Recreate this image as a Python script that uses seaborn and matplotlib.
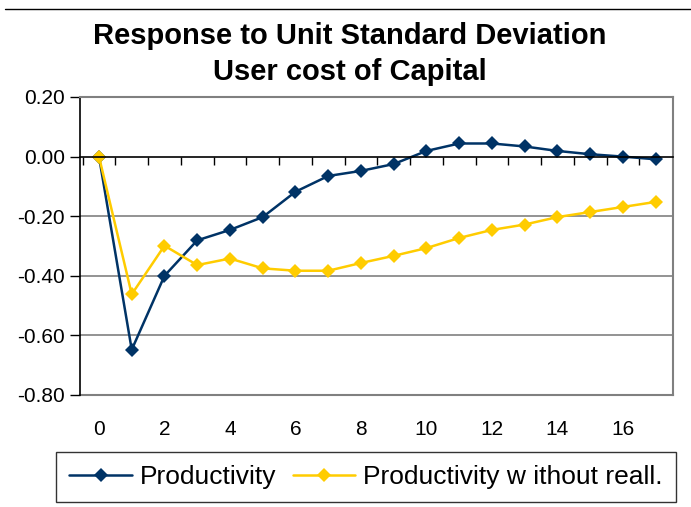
import matplotlib
matplotlib.use("Agg")
import matplotlib.pyplot as plt
import matplotlib.ticker as mticker
from matplotlib.lines import Line2D
import seaborn as sns
import pandas as pd

# === DATA ===
periods = list(range(18))
productivity = [0.00, -0.648, -0.400, -0.281, -0.246, -0.203, -0.118, -0.065, -0.048,
                -0.025, 0.019, 0.044, 0.044, 0.034, 0.019, 0.008, 0.000, -0.009]
productivity_no_realloc = [0.00, -0.462, -0.299, -0.364, -0.342, -0.375, -0.383, -0.383,
                           -0.357, -0.333, -0.307, -0.273, -0.246, -0.228, -0.203, -0.186,
                           -0.169, -0.152]
series_names = ["Productivity", "Productivity w ithout reall."]
x_ticks = list(range(0, 17, 2))
y_ticks = [0.20, 0.00, -0.20, -0.40, -0.60, -0.80]

BLUE = "#003366"
YELLOW = "#FFCC00"

df = pd.DataFrame({
    "period": periods * 2,
    "value": productivity + productivity_no_realloc,
    "series": [series_names[0]] * len(periods) + [series_names[1]] * len(periods),
})

sns.set_style("white")
plt.rcParams["font.family"] = ["Liberation Sans", "DejaVu Sans"]
plt.rcParams.update({"text.color": "black", "axes.labelcolor": "black",
                     "xtick.color": "black", "ytick.color": "black"})

fig = plt.figure(figsize=(6.91, 5.07), dpi=100)
ax = fig.add_axes([80 / 691, 1 - 395 / 507, 593 / 691, 298 / 507])

sns.lineplot(data=df, x="period", y="value", hue="series", style="series",
             palette=[BLUE, YELLOW], markers=["D", "D"], dashes=False,
             markersize=7.5, linewidth=1.8, markeredgewidth=0, ax=ax, legend=False)

ax.set_xlim(-0.58, 17.53)
ax.set_ylim(-0.80, 0.20)
ax.set_xlabel("")
ax.set_ylabel("")

# gridlines
for y in [-0.2, -0.4, -0.6]:
    ax.axhline(y, color="#808080", linewidth=1.2, zorder=0)

# frame
for side in ["top", "right"]:
    ax.spines[side].set_color("#808080")
    ax.spines[side].set_linewidth(1.5)
ax.spines["left"].set_color("black")
ax.spines["left"].set_linewidth(1.2)

# category axis crossing at zero, ticks between categories
ax.spines["bottom"].set_position(("data", 0))
ax.spines["bottom"].set_color("black")
ax.spines["bottom"].set_linewidth(1.2)
ax.set_xticks([p + 0.5 for p in periods[:-1]] + [-0.5])
ax.set_xticklabels([])
ax.tick_params(axis="x", direction="out", length=6, width=1, color="black", bottom=True)

ax.set_yticks(y_ticks)
ax.yaxis.set_major_formatter(mticker.FormatStrFormatter("%.2f"))
ax.tick_params(axis="y", direction="out", length=7, width=1, color="black", left=True,
               labelsize=15, pad=4, labelcolor="black")

# bottom frame with labels
sec = ax.secondary_xaxis(0)
sec.set_xticks(x_ticks)
sec.tick_params(axis="x", length=0, labelsize=15, pad=18, labelcolor="black")
sec.spines["bottom"].set_color("#808080")
sec.spines["bottom"].set_linewidth(1.5)

fig.suptitle("Response to Unit Standard Deviation\nUser cost of Capital",
             x=350 / 691, y=1 - 22 / 507, fontsize=21, fontweight="bold",
             linespacing=1.35, va="top", color="black")

handles = [Line2D([0], [0], color=BLUE, marker="D", markersize=7, linewidth=1.8,
                  markeredgewidth=0),
           Line2D([0], [0], color=YELLOW, marker="D", markersize=7, linewidth=1.8,
                  markeredgewidth=0)]
leg = fig.legend(handles, series_names, loc="center", ncol=2, fontsize=19,
                 bbox_to_anchor=(366 / 691, 1 - 477 / 507),
                 frameon=True, fancybox=False, handlelength=2.35, handletextpad=0.3,
                 columnspacing=0.65, borderpad=0.5, borderaxespad=0)
leg.get_frame().set_edgecolor("black")
leg.get_frame().set_linewidth(1.0)

fig.add_artist(Line2D([5 / 691, 1], [1 - 9 / 507, 1 - 9 / 507], color="black", linewidth=1))

fig.savefig("out.png", dpi=100)
